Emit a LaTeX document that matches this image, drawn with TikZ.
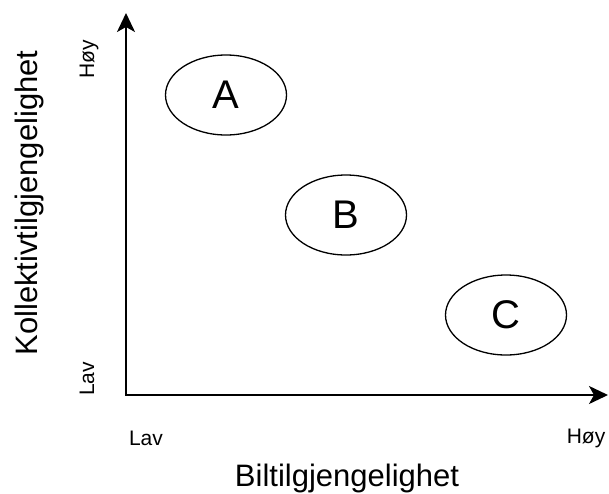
\documentclass[tikz,border=0pt]{standalone}
\usepackage{fontspec}
\setmainfont{Liberation Sans}
\usetikzlibrary{arrows.meta,shapes.geometric}
\tikzset{
  zone/.style={draw=black, line width=1.3pt, ellipse, minimum width=121pt, minimum height=80pt, inner sep=0pt, font=\fontsize{40}{40}\selectfont},
  axisline/.style={{Stealth[length=19pt,width=18pt,inset=5pt]}-{Stealth[length=19pt,width=18pt,inset=5pt]}, line width=2pt, draw=black},
  tick/.style={font=\fontsize{21}{21}\selectfont, anchor=base, inner sep=0pt},
  axistitle/.style={font=\fontsize{31}{31}\selectfont, anchor=base, inner sep=0pt}
}

\begin{document}
\begin{tikzpicture}[x=1pt,y=-1pt]
  \useasboundingbox (0,0) rectangle (609,493);
  % axes
  \coordinate (o) at (126,395);
  \coordinate (xend) at (608,395);
  \coordinate (yend) at (126,13);
  \draw[axisline] (yend) -- (o) -- (xend);
  % groups
  \node[zone] (a) at (226,95) {A};
  \node[zone] (b) at (346,215) {B};
  \node[zone] (c) at (506,315) {C};
  % axis labels
  \node[tick] (xlow) at (146,445) {Lav};
  \node[tick] (xhigh) at (586,443) {Høy};
  \node[tick, rotate=90] (ylow) at (94,379) {Lav};
  \node[tick, rotate=90] (yhigh) at (94,59) {Høy};
  \node[axistitle] (xtitle) at (347,486) {Biltilgjengelighet};
  \node[axistitle, rotate=90] (ytitle) at (37,203) {Kollektivtilgjengelighet};
\end{tikzpicture}
\end{document}
